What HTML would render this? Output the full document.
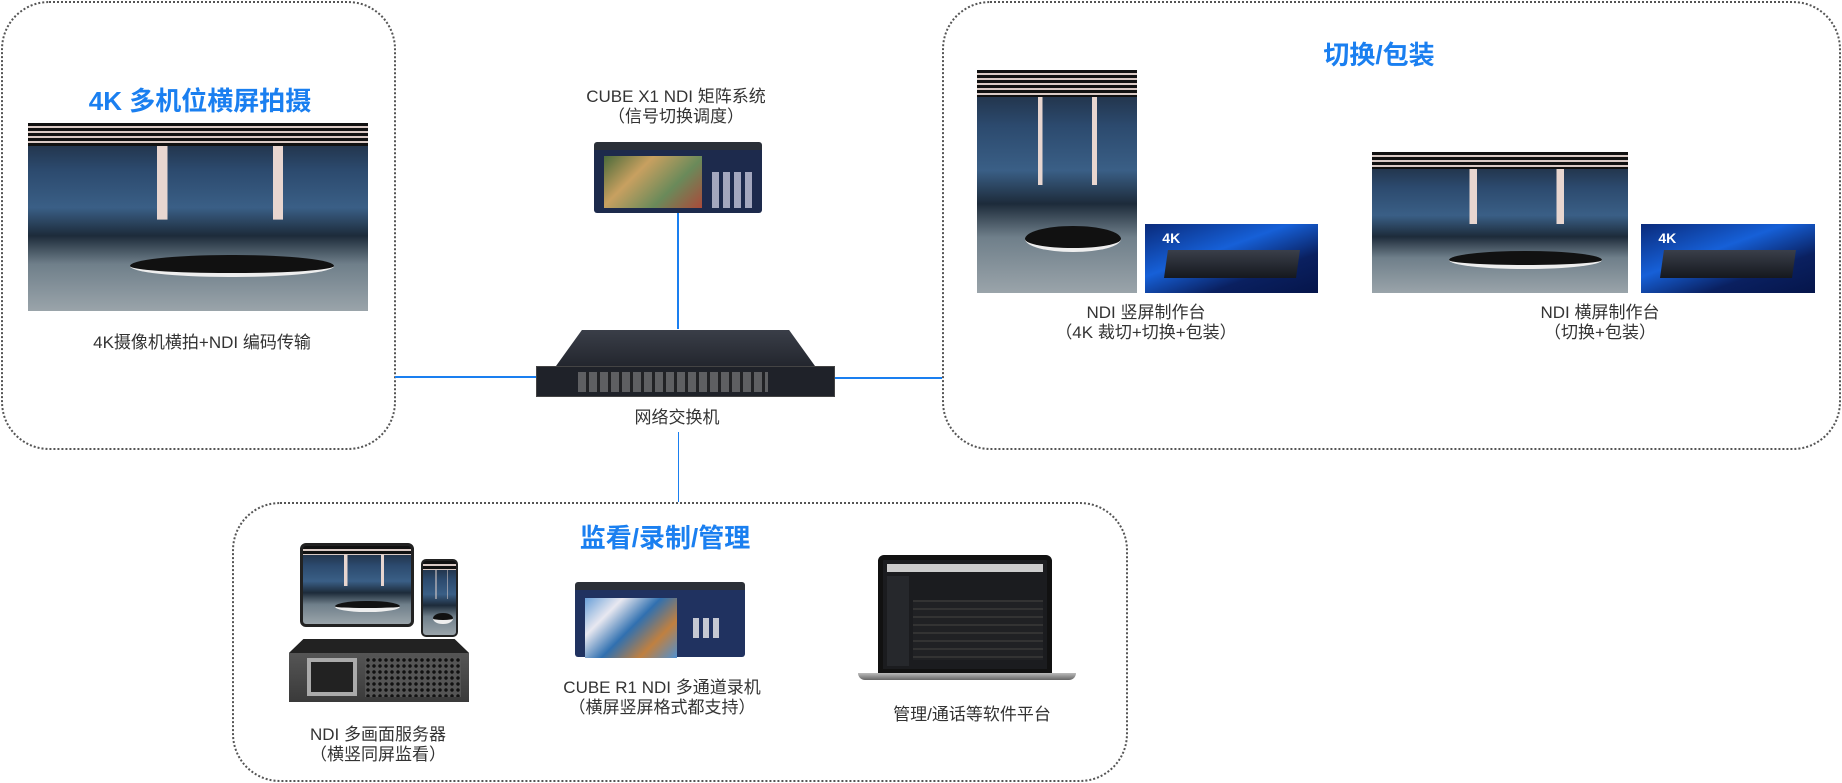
<!DOCTYPE html>
<html><head><meta charset="utf-8"><style>
*{margin:0;padding:0;box-sizing:border-box}
body{width:1842px;height:783px;background:#fff;position:relative;overflow:hidden;font-family:"Liberation Sans","Noto Sans CJK SC",sans-serif;color:#333}
.a{position:absolute}
.box{position:absolute;border:2px dotted #555;border-radius:48px}
.t{position:absolute;color:#1a7ff0;font-size:26px;font-weight:bold;text-align:center;white-space:nowrap;transform:translateX(-50%)}
.c{position:absolute;font-size:17px;text-align:center;white-space:nowrap;transform:translateX(-50%);line-height:20px;color:#333}
.ln{position:absolute;background:#1a7ff0}
.studio{position:absolute;overflow:hidden;background:
 linear-gradient(90deg,transparent 0 38%,#e8d6d0 38% 41%,transparent 41% 72%,#e8d6d0 72% 75%,transparent 75%) 0 12%/100% 45% no-repeat,
 linear-gradient(180deg,#1a2330 0%,#2c4a6e 25%,#3a5f86 45%,#1d2b3a 60%,#6f7f8a 75%,#9aa4aa 100%)}
.studio:before{content:"";position:absolute;left:0;right:0;top:0;height:12%;background:repeating-linear-gradient(180deg,#111 0 3px,#d9c9c4 3px 5px)}
.studio:after{content:"";position:absolute;left:30%;right:10%;top:70%;height:10%;border-radius:50%;background:#111;border-bottom:4px solid #eee}
.hw{position:absolute;background:linear-gradient(160deg,#0a2a7a,#1660d8 40%,#0a2060 70%,#05154a)}
.hw:after{content:"";position:absolute;left:12%;right:12%;top:38%;bottom:22%;background:linear-gradient(180deg,#3a3f4a,#15181e);transform:skewX(-8deg)}
.hw span{position:absolute;left:10%;top:8%;color:#fff;font-weight:bold;font-size:14px}
</style></head><body>

<div class="box" style="left:1px;top:1px;width:395px;height:449px"></div>
<div class="box" style="left:942px;top:1px;width:899px;height:449px"></div>
<div class="box" style="left:232px;top:502px;width:896px;height:280px"></div>

<div class="ln" style="left:395px;top:376px;width:142px;height:2px"></div>
<div class="ln" style="left:834px;top:377px;width:108px;height:2px"></div>
<div class="ln" style="left:677px;top:213px;width:2px;height:116px"></div>
<div class="ln" style="left:678px;top:432px;width:1px;height:70px"></div>

<div class="t" style="left:200px;top:81px">4K 多机位横屏拍摄</div>
<div class="studio" style="left:28px;top:123px;width:340px;height:188px"></div>
<div class="c" style="left:202px;top:333px">4K摄像机横拍+NDI 编码传输</div>

<div class="c" style="left:676px;top:87px">CUBE X1 NDI 矩阵系统<br>（信号切换调度）</div>
<div class="a" style="left:594px;top:142px;width:168px;height:71px;background:#1d2a4c;border-radius:3px;border-top:8px solid #2a2f38">
 <div class="a" style="left:10px;top:6px;width:98px;height:52px;background:linear-gradient(135deg,#4a6a3a,#c8a060,#6a8a5a,#aa4a3a)"></div>
 <div class="a" style="left:118px;top:22px;width:42px;height:36px;background:repeating-linear-gradient(90deg,#dde 0 7px,transparent 7px 11px);opacity:.7"></div>
</div>

<div class="a" style="left:536px;top:330px;width:299px;height:67px;">
 <div class="a" style="left:20px;top:0;width:259px;height:36px;background:linear-gradient(180deg,#3a3e48,#23262e);clip-path:polygon(10% 0,90% 0,100% 100%,0 100%)"></div>
 <div class="a" style="left:0;top:36px;width:299px;height:31px;background:#1f2229;border:1px solid #444"></div>
 <div class="a" style="left:42px;top:42px;width:190px;height:20px;background:repeating-linear-gradient(90deg,#888 0 8px,#222 8px 11px);opacity:.6"></div>
</div>
<div class="c" style="left:677px;top:408px">网络交换机</div>

<div class="t" style="left:1379px;top:35px">切换/包装</div>
<div class="studio" style="left:977px;top:70px;width:160px;height:223px"></div>
<div class="hw" style="left:1145px;top:224px;width:173px;height:69px"><span>4K</span></div>
<div class="c" style="left:1146px;top:303px">NDI 竖屏制作台<br>（4K 裁切+切换+包装）</div>
<div class="studio" style="left:1372px;top:152px;width:256px;height:141px"></div>
<div class="hw" style="left:1641px;top:224px;width:174px;height:69px"><span>4K</span></div>
<div class="c" style="left:1600px;top:303px">NDI 横屏制作台<br>（切换+包装）</div>

<div class="t" style="left:665px;top:518px">监看/录制/管理</div>
<div class="studio" style="left:300px;top:543px;width:114px;height:84px;border:3px solid #222;border-radius:6px"></div>
<div class="studio" style="left:421px;top:559px;width:37px;height:78px;border:2px solid #222;border-radius:5px"></div>
<div class="a" style="left:289px;top:639px;width:180px;height:63px;background:linear-gradient(180deg,#222 0 22%,#555 22%,#3a3a3a);clip-path:polygon(8% 0,92% 0,100% 22%,100% 100%,0 100%,0 22%)">
 <div class="a" style="left:18px;top:19px;width:50px;height:38px;background:#222;border:4px solid #aaa"></div>
 <div class="a" style="left:76px;top:18px;width:96px;height:40px;background:radial-gradient(circle,#111 1.5px,#555 2px);background-size:6px 6px"></div>
</div>
<div class="c" style="left:378px;top:725px">NDI 多画面服务器<br>（横竖同屏监看）</div>

<div class="a" style="left:575px;top:582px;width:170px;height:75px;background:#203260;border-top:8px solid #2b2f38;border-radius:3px">
 <div class="a" style="left:10px;top:8px;width:92px;height:60px;background:linear-gradient(135deg,#6aa0d8,#e8e8f0,#3070b0,#c08040,#5090d0)"></div>
 <div class="a" style="left:118px;top:28px;width:28px;height:20px;background:repeating-linear-gradient(90deg,#eee 0 6px,transparent 6px 10px);opacity:.8"></div>
</div>
<div class="c" style="left:662px;top:678px">CUBE R1 NDI 多通道录机<br>（横屏竖屏格式都支持）</div>

<div class="a" style="left:878px;top:555px;width:174px;height:119px;background:#1b1c1f;border:5px solid #111;border-radius:6px 6px 0 0">
 <div class="a" style="left:4px;top:4px;width:156px;height:8px;background:#ccc"></div>
 <div class="a" style="left:4px;top:16px;width:22px;height:90px;background:#26282c"></div>
 <div class="a" style="left:30px;top:40px;width:130px;height:60px;background:repeating-linear-gradient(180deg,#333 0 2px,#202124 2px 8px)"></div>
</div>
<div class="a" style="left:858px;top:673px;width:218px;height:7px;background:linear-gradient(180deg,#bbb,#666);border-radius:0 0 8px 8px"></div>
<div class="c" style="left:972px;top:705px">管理/通话等软件平台</div>
</body></html>
